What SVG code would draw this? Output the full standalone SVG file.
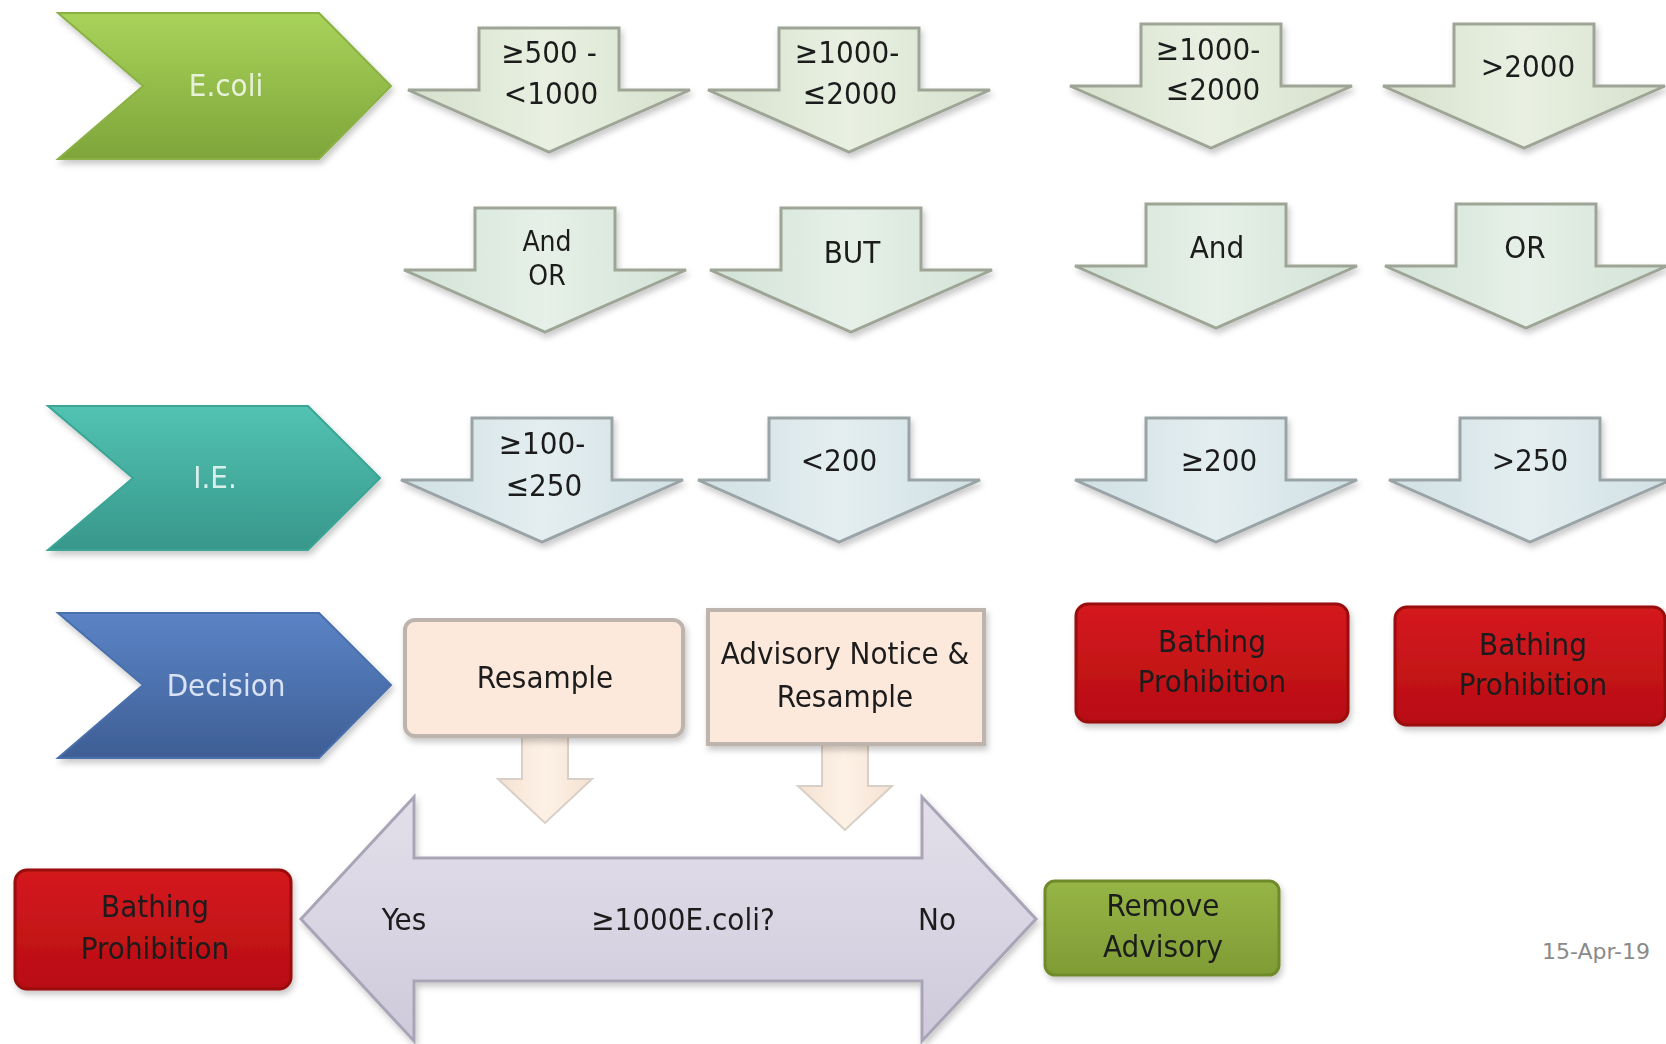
<svg xmlns="http://www.w3.org/2000/svg" xmlns:xlink="http://www.w3.org/1999/xlink" width="1666" height="1044" viewBox="0 0 1666 1044">
<defs>
<style>
.t{font-family:"Liberation Sans Narrow","DejaVu Sans Condensed","Liberation Sans",sans-serif;font-size:31px;fill:#1c1c1c;text-anchor:middle}
.ts{font-size:28px}
.tw{font-family:"Liberation Sans Narrow","DejaVu Sans Condensed","Liberation Sans",sans-serif;font-size:31px;text-anchor:middle}
.date{font-family:"DejaVu Sans","Liberation Sans",sans-serif;font-size:22px;fill:#8a8a8a;text-anchor:middle}
.dn1{fill:url(#gA1);stroke:#9ea596;stroke-width:3}
.dn2{fill:url(#gA2);stroke:#9ea596;stroke-width:3}
.dn3{fill:url(#gA3);stroke:#9aa3a6;stroke-width:3}
.red{fill:url(#gRed);stroke:#9a0b0b;stroke-width:3}
.peach{fill:#fde9dc;stroke:#bdb5ad;stroke-width:4}
</style>
<linearGradient id="gGreen" x1="0" y1="0" x2="0" y2="1"><stop offset="0" stop-color="#a8d35a"/><stop offset="1" stop-color="#7ea53a"/></linearGradient>
<linearGradient id="gTeal" x1="0" y1="0" x2="0" y2="1"><stop offset="0" stop-color="#52c3b3"/><stop offset="1" stop-color="#37978a"/></linearGradient>
<linearGradient id="gBlue" x1="0" y1="0" x2="0" y2="1"><stop offset="0" stop-color="#5b84c6"/><stop offset="1" stop-color="#3e5e95"/></linearGradient>
<linearGradient id="gA1" x1="0" y1="0" x2="1" y2="0"><stop offset="0" stop-color="#d6e0cc"/><stop offset="0.5" stop-color="#e9f0e2"/><stop offset="1" stop-color="#d6e0cc"/></linearGradient>
<linearGradient id="gA2" x1="0" y1="0" x2="1" y2="0"><stop offset="0" stop-color="#d2e2d6"/><stop offset="0.5" stop-color="#e6f0e8"/><stop offset="1" stop-color="#d2e2d6"/></linearGradient>
<linearGradient id="gA3" x1="0" y1="0" x2="1" y2="0"><stop offset="0" stop-color="#d0e0e3"/><stop offset="0.5" stop-color="#e4eef0"/><stop offset="1" stop-color="#d0e0e3"/></linearGradient>
<linearGradient id="gRed" x1="0" y1="0" x2="0" y2="1"><stop offset="0" stop-color="#d41a1f"/><stop offset="1" stop-color="#b80d12"/></linearGradient>
<linearGradient id="gOlive" x1="0" y1="0" x2="0" y2="1"><stop offset="0" stop-color="#96b546"/><stop offset="1" stop-color="#7f9c35"/></linearGradient>
<linearGradient id="gLav" x1="0" y1="0" x2="0" y2="1"><stop offset="0" stop-color="#e2dfea"/><stop offset="0.5" stop-color="#d9d5e3"/><stop offset="1" stop-color="#cfcadb"/></linearGradient>
<linearGradient id="gPeachA" x1="0" y1="0" x2="1" y2="0"><stop offset="0" stop-color="#f4e2d2"/><stop offset="0.5" stop-color="#fdf1e6"/><stop offset="1" stop-color="#f4e2d2"/></linearGradient>
<filter id="sh" x="-10%" y="-10%" width="125%" height="130%"><feDropShadow dx="2" dy="4" stdDeviation="3" flood-color="#000" flood-opacity="0.22"/></filter>
<path id="down" d="M-70,0 H70 V62 H141 L0,124 L-141,62 H-70 Z"/>
<path id="small" d="M-23,0 H23 V42 H47 L0,86 L-47,42 H-23 Z"/>
</defs>
<rect width="1666" height="1044" fill="#ffffff"/>

<g id="ecoli" filter="url(#sh)">
<path d="M58,13 H319 L391,86 L319,159 H58 L143,86 Z" fill="url(#gGreen)" stroke="#8bb145" stroke-width="2"/>
<text class="tw" x="226" y="96" fill="#e8f1da">E.coli</text>
</g>
<g id="ie" filter="url(#sh)">
<path d="M48,406 H308 L380,478 L308,550 H48 L133,478 Z" fill="url(#gTeal)" stroke="#3aa596" stroke-width="2"/>
<text class="tw" x="215" y="488" fill="#d9efec">I.E.</text>
</g>
<g id="decision" filter="url(#sh)">
<path d="M58,613 H319 L391,685 L319,758 H58 L143,685 Z" fill="url(#gBlue)" stroke="#4a70ad" stroke-width="2"/>
<text class="tw" x="226" y="696" fill="#d8e2f4">Decision</text>
</g>

<g id="e1" filter="url(#sh)"><use href="#down" class="dn1" transform="translate(549,28)"/><text class="t" x="549" y="63">≥500 -</text><text class="t" x="551" y="104">&lt;1000</text></g>
<g id="e2" filter="url(#sh)"><use href="#down" class="dn1" transform="translate(849,28)"/><text class="t" x="847" y="63">≥1000-</text><text class="t" x="850" y="104">≤2000</text></g>
<g id="e3" filter="url(#sh)"><use href="#down" class="dn1" transform="translate(1211,24)"/><text class="t" x="1208" y="60">≥1000-</text><text class="t" x="1213" y="100">≤2000</text></g>
<g id="e4" filter="url(#sh)"><use href="#down" class="dn1" transform="translate(1524,24)"/><text class="t" x="1528" y="77">&gt;2000</text></g>

<g id="c1" filter="url(#sh)"><use href="#down" class="dn2" transform="translate(545,208)"/><text class="t ts" x="547" y="251">And</text><text class="t ts" x="547" y="285">OR</text></g>
<g id="c2" filter="url(#sh)"><use href="#down" class="dn2" transform="translate(851,208)"/><text class="t" x="852" y="263">BUT</text></g>
<g id="c3" filter="url(#sh)"><use href="#down" class="dn2" transform="translate(1216,204)"/><text class="t" x="1217" y="258">And</text></g>
<g id="c4" filter="url(#sh)"><use href="#down" class="dn2" transform="translate(1526,204)"/><text class="t" x="1525" y="258">OR</text></g>

<g id="i1" filter="url(#sh)"><use href="#down" class="dn3" transform="translate(542,418)"/><text class="t" x="542" y="454">≥100-</text><text class="t" x="544" y="496">≤250</text></g>
<g id="i2" filter="url(#sh)"><use href="#down" class="dn3" transform="translate(839,418)"/><text class="t" x="839" y="471">&lt;200</text></g>
<g id="i3" filter="url(#sh)"><use href="#down" class="dn3" transform="translate(1216,418)"/><text class="t" x="1219" y="471">≥200</text></g>
<g id="i4" filter="url(#sh)"><use href="#down" class="dn3" transform="translate(1530,418)"/><text class="t" x="1530" y="471">&gt;250</text></g>

<g id="connectors">
<use href="#small" transform="translate(545,737)" fill="url(#gPeachA)" stroke="#d8cfc6" stroke-width="2"/>
<use href="#small" transform="translate(845,744)" fill="url(#gPeachA)" stroke="#d8cfc6" stroke-width="2"/>
</g>

<g id="resample" filter="url(#sh)">
<rect x="405" y="620" width="278" height="116" rx="10" class="peach"/>
<text class="t" x="545" y="688">Resample</text>
</g>
<g id="advisory" filter="url(#sh)">
<rect x="708" y="610" width="276" height="134" class="peach"/>
<text class="t" x="845" y="664">Advisory Notice &amp;</text>
<text class="t" x="845" y="707">Resample</text>
</g>
<g id="bp1" filter="url(#sh)">
<rect x="1076" y="604" width="272" height="118" rx="12" class="red"/>
<text class="t" x="1212" y="652" fill="#2a0000">Bathing</text>
<text class="t" x="1212" y="692" fill="#2a0000">Prohibition</text>
</g>
<g id="bp2" filter="url(#sh)">
<rect x="1395" y="607" width="270" height="118" rx="12" class="red"/>
<text class="t" x="1533" y="655" fill="#2a0000">Bathing</text>
<text class="t" x="1533" y="695" fill="#2a0000">Prohibition</text>
</g>

<g id="question" filter="url(#sh)">
<path d="M301,919 L414,797 V858 H922 V797 L1036,919 L922,1041 V981 H414 V1041 Z" fill="url(#gLav)" stroke="#a9a5b6" stroke-width="3"/>
<text class="t" x="404" y="930">Yes</text>
<text class="t" x="683" y="930">≥1000E.coli?</text>
<text class="t" x="937" y="930">No</text>
</g>
<g id="bp3" filter="url(#sh)">
<rect x="15" y="870" width="276" height="119" rx="12" class="red"/>
<text class="t" x="155" y="917" fill="#2a0000">Bathing</text>
<text class="t" x="155" y="959" fill="#2a0000">Prohibition</text>
</g>
<g id="remove" filter="url(#sh)">
<rect x="1045" y="881" width="234" height="94" rx="10" fill="url(#gOlive)" stroke="#6f8a2c" stroke-width="3"/>
<text class="t" x="1163" y="916" fill="#1a2a06">Remove</text>
<text class="t" x="1163" y="957" fill="#1a2a06">Advisory</text>
</g>
<text class="date" x="1596" y="959">15-Apr-19</text>
</svg>
